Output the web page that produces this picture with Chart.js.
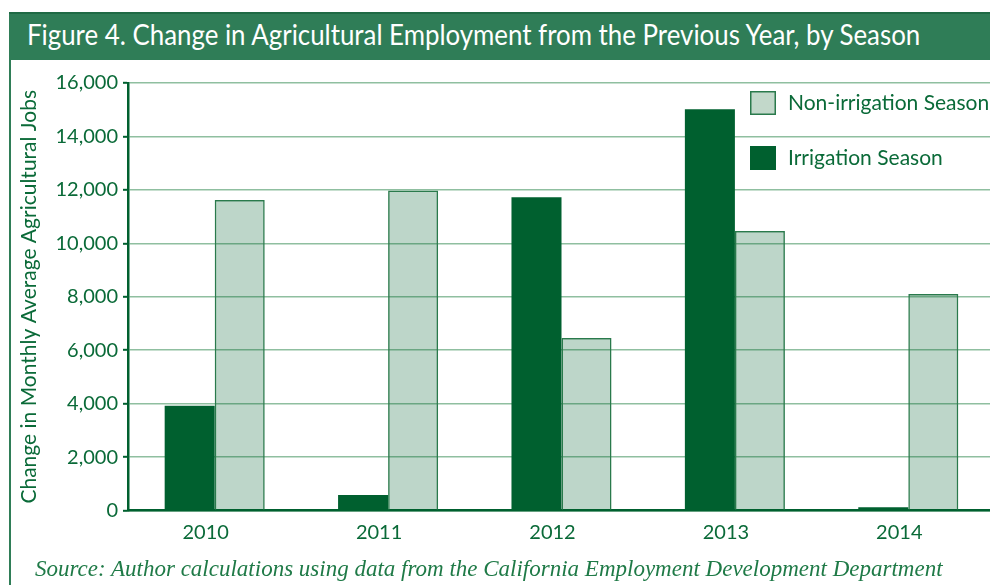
<!DOCTYPE html>
<html>
<head>
<meta charset="utf-8">
<script src="https://cdn.jsdelivr.net/npm/chart.js@4"></script>
<style>
  html, body { margin: 0; padding: 0; background: #fff; }
  body { width: 990px; height: 585px; overflow: hidden; position: relative; }
  .banner {
    position: absolute; left: 9px; top: 12px; width: 981px; height: 48px;
    background: #2f7d57; border-top: 2px solid #1f6a45; box-sizing: border-box;
  }
  .banner span {
    position: absolute; left: 18px; top: 2px; color: #fff;
    font-family: Lato, sans-serif; font-size: 29px; white-space: nowrap;
    display: inline-block; transform-origin: 0 50%;
  }
  .frame { position: absolute; left: 9px; top: 60px; width: 2px; height: 525px; background: #2f7d57; }
  .chartbox { position: absolute; left: 0; top: 62px; width: 1000px; height: 500px; }
  .source {
    position: absolute; left: 35px; top: 556px; color: #1f7a47;
    font-family: "Liberation Serif", serif; font-style: italic; font-size: 23px; white-space: nowrap;
  }
</style>
</head>
<body>
<div class="banner"><span id="title">Figure 4. Change in Agricultural Employment from the Previous Year, by Season</span></div>
<div class="frame"></div>
<div class="chartbox"><canvas id="chart"></canvas></div>
<div class="source">Source: Author calculations using data from the California Employment Development Department</div>
<script>
// データ
const years = ["2010", "2011", "2012", "2013", "2014"]
const irrigation = [3920, 580, 11720, 15020, 120]
const nonIrrigation = [11620, 11980, 6460, 10460, 8100]
const yTicks = [0, 2000, 4000, 6000, 8000, 10000, 12000, 14000, 16000]

const DARK = "#00602f"
const TEXT = "#0a6a38"
const GRID = "#8fbfa0"

// タイトルを幅に合わせて横方向に詰める
const titleEl = document.getElementById("title")
titleEl.style.transform = "scaleX(" + 893 / titleEl.offsetWidth + ")"

// 凡例（グラフ内右上）
const insideLegend = {
  id: "insideLegend",
  afterDraw(chart) {
    const ctx = chart.ctx
    const x = chart.chartArea.right - 245
    const y = chart.chartArea.top + 8
    const items = [chart.data.datasets[1], chart.data.datasets[0]]
    ctx.save()
    ctx.font = "21px Lato"
    ctx.textBaseline = "middle"
    items.forEach((ds, i) => {
      const top = y + i * 55
      ctx.fillStyle = ds.legendFill
      ctx.fillRect(x, top, 26, 24)
      ctx.strokeStyle = ds.borderColor
      ctx.lineWidth = 1.5
      ctx.strokeRect(x + 0.75, top + 0.75, 24.5, 22.5)
      ctx.fillStyle = TEXT
      ctx.fillText(ds.label, x + 38, top + 12)
    })
    ctx.restore()
  },
}

new Chart(document.getElementById("chart"), {
  type: "bar",
  data: {
    labels: years,
    datasets: [
      {
        label: "Irrigation Season",
        data: irrigation,
        backgroundColor: DARK,
        borderColor: DARK,
        borderWidth: 0,
        legendFill: DARK,
      },
      {
        label: "Non-irrigation Season",
        data: nonIrrigation,
        backgroundColor: "rgba(0, 96, 48, 0.26)",
        borderColor: "#2a7a4c",
        borderWidth: 1.5,
        legendFill: "#c2d8ca",
      },
    ],
  },
  plugins: [insideLegend],
  options: {
    responsive: true,
    maintainAspectRatio: false,
    animation: false,
    layout: { padding: { top: 21, right: 5, left: 0, bottom: 0 } },
    plugins: {
      legend: { display: false },
      tooltip: { enabled: false },
    },
    datasets: {
      bar: { barPercentage: 1, categoryPercentage: 0.577 },
    },
    scales: {
      x: {
        grid: { display: false, drawTicks: false },
        border: { display: true, color: DARK, width: 2.5 },
        ticks: { color: TEXT, font: { family: "Lato", size: 20 }, padding: 10, labelOffset: -9 },
        afterFit(scale) { scale.height = 51.5 },
      },
      y: {
        min: 0,
        max: 16000,
        afterBuildTicks(scale) { scale.ticks = yTicks.map((v) => ({ value: v })) },
        grid: { color: GRID, lineWidth: 1.6, tickLength: 5, tickColor: DARK, tickWidth: 2 },
        border: { display: true, color: DARK, width: 2.5 },
        ticks: { color: TEXT, font: { family: "Lato", size: 20 }, padding: 5 },
        title: {
          display: true,
          text: "Change in Monthly Average Agricultural Jobs",
          color: TEXT,
          font: { family: "Lato", size: 21 },
          padding: { top: 17, bottom: 0 },
        },
        afterFit(scale) { scale.width = 128 },
      },
    },
  },
})
</script>
</body>
</html>
